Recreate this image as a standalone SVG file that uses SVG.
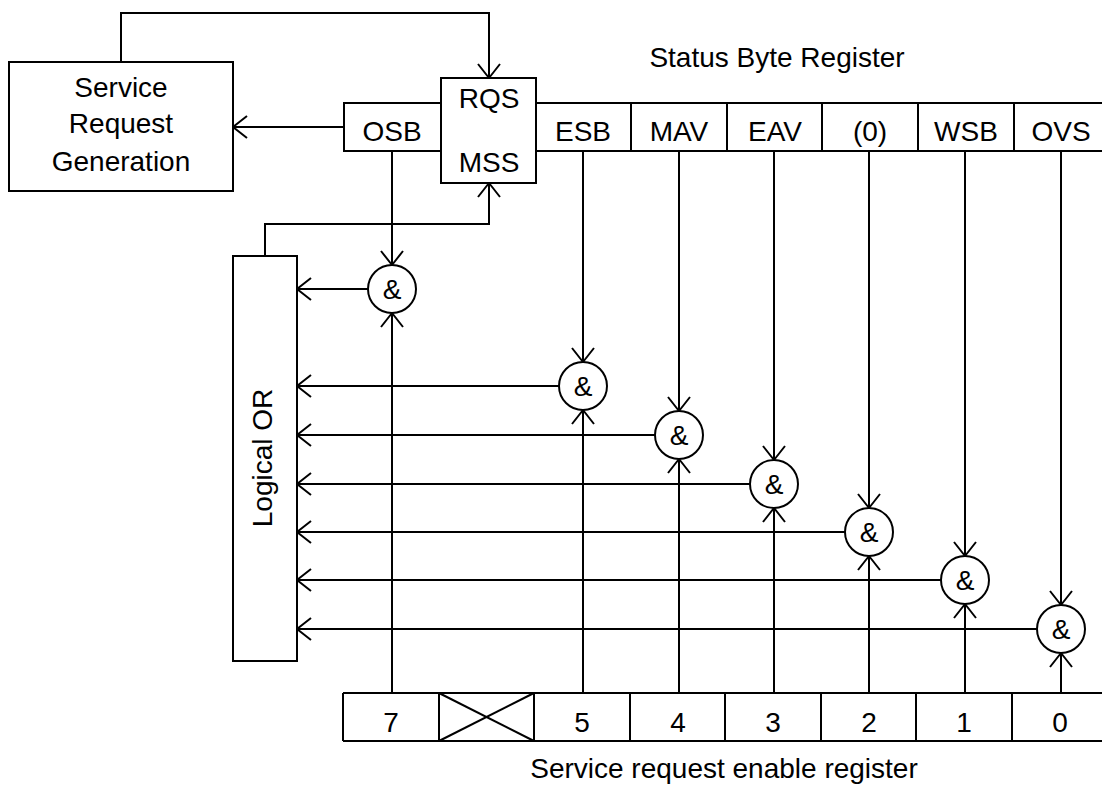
<svg xmlns="http://www.w3.org/2000/svg" width="1102" height="785" viewBox="0 0 1102 785">
<style>
  .box { fill: #fff; stroke: #000; stroke-width: 2; }
  .ln { fill: none; stroke: #000; stroke-width: 2; }
  .arr { fill: none; stroke: #000; stroke-width: 2; marker-end: url(#open); }
  text { font-family: "Liberation Sans", Arial, sans-serif; font-size: 28px; fill: #000; text-anchor: middle; }
</style>
<defs>
  <marker id="open" markerUnits="userSpaceOnUse" markerWidth="34" markerHeight="34" viewBox="-17 -17 34 34" refX="0" refY="0" orient="auto" overflow="visible">
    <path d="M-14,-11 L0,0 L-14,11" fill="none" stroke="#000" stroke-width="2"/>
  </marker>
</defs>
<rect width="1102" height="785" fill="#fff"/>

<g id="connectors">
  <polyline class="arr" points="121,62 121,13 489,13 489,78"/>
  <line class="arr" x1="344" y1="127" x2="233" y2="127"/>
  <polyline class="arr" points="265,256 265,224 489,224 489,183"/>
  <line class="arr" x1="392" y1="151" x2="392" y2="265"/>
  <line class="arr" x1="583" y1="151" x2="583" y2="362"/>
  <line class="arr" x1="679" y1="151" x2="679" y2="411"/>
  <line class="arr" x1="774" y1="151" x2="774" y2="460"/>
  <line class="arr" x1="869" y1="151" x2="869" y2="508"/>
  <line class="arr" x1="965" y1="151" x2="965" y2="556"/>
  <line class="arr" x1="1061" y1="151" x2="1061" y2="605"/>
  <line class="arr" x1="392" y1="693" x2="392" y2="313"/>
  <line class="arr" x1="583" y1="693" x2="583" y2="410"/>
  <line class="arr" x1="679" y1="693" x2="679" y2="459"/>
  <line class="arr" x1="774" y1="693" x2="774" y2="508"/>
  <line class="arr" x1="869" y1="693" x2="869" y2="556"/>
  <line class="arr" x1="965" y1="693" x2="965" y2="604"/>
  <line class="arr" x1="1061" y1="693" x2="1061" y2="653"/>
  <line class="arr" x1="368" y1="289" x2="297" y2="289"/>
  <line class="arr" x1="559" y1="386" x2="297" y2="386"/>
  <line class="arr" x1="655" y1="435" x2="297" y2="435"/>
  <line class="arr" x1="750" y1="484" x2="297" y2="484"/>
  <line class="arr" x1="845" y1="532" x2="297" y2="532"/>
  <line class="arr" x1="941" y1="580" x2="297" y2="580"/>
  <line class="arr" x1="1037" y1="629" x2="297" y2="629"/>
</g>

<g id="service-request-generation">
  <rect class="box" x="9" y="62" width="224" height="129"/>
  <text x="121" y="97">Service</text>
  <text x="121" y="133">Request</text>
  <text x="121" y="171">Generation</text>
</g>

<g id="status-byte-label">
  <text x="777" y="67">Status Byte Register</text>
</g>

<g id="osb">
  <rect class="box" x="344" y="103" width="97" height="48"/>
  <text x="392" y="141">OSB</text>
</g>

<g id="rqs-mss">
  <rect class="box" x="441" y="78" width="95" height="105"/>
  <text x="489" y="108">RQS</text>
  <text x="489" y="172">MSS</text>
</g>

<g id="status-byte-register">
  <line class="ln" x1="536" y1="103" x2="1102" y2="103"/>
  <line class="ln" x1="536" y1="151" x2="1102" y2="151"/>
  <line class="ln" x1="631" y1="103" x2="631" y2="151"/>
  <line class="ln" x1="727" y1="103" x2="727" y2="151"/>
  <line class="ln" x1="822" y1="103" x2="822" y2="151"/>
  <line class="ln" x1="918" y1="103" x2="918" y2="151"/>
  <line class="ln" x1="1014" y1="103" x2="1014" y2="151"/>
  <text x="583" y="141">ESB</text>
  <text x="679" y="141">MAV</text>
  <text x="775" y="141">EAV</text>
  <text x="870" y="141">(0)</text>
  <text x="966" y="141">WSB</text>
  <text x="1061" y="141">OVS</text>
</g>

<g id="logical-or">
  <rect class="box" x="233" y="256" width="64" height="405"/>
  <text transform="translate(272,458) rotate(-90)">Logical OR</text>
</g>

<g id="and-gates">
  <g id="and7"><circle class="box" cx="392" cy="289" r="24"/><text x="392" y="299">&amp;</text></g>
  <g id="and5"><circle class="box" cx="583" cy="386" r="24"/><text x="583" y="396">&amp;</text></g>
  <g id="and4"><circle class="box" cx="679" cy="435" r="24"/><text x="679" y="445">&amp;</text></g>
  <g id="and3"><circle class="box" cx="774" cy="484" r="24"/><text x="774" y="494">&amp;</text></g>
  <g id="and2"><circle class="box" cx="869" cy="532" r="24"/><text x="869" y="542">&amp;</text></g>
  <g id="and1"><circle class="box" cx="965" cy="580" r="24"/><text x="965" y="590">&amp;</text></g>
  <g id="and0"><circle class="box" cx="1061" cy="629" r="24"/><text x="1061" y="639">&amp;</text></g>
</g>

<g id="service-request-enable-register">
  <line class="ln" x1="343" y1="693" x2="1102" y2="693"/>
  <line class="ln" x1="343" y1="741" x2="1102" y2="741"/>
  <line class="ln" x1="343" y1="693" x2="343" y2="741"/>
  <line class="ln" x1="439" y1="693" x2="439" y2="741"/>
  <line class="ln" x1="534" y1="693" x2="534" y2="741"/>
  <line class="ln" x1="630" y1="693" x2="630" y2="741"/>
  <line class="ln" x1="725" y1="693" x2="725" y2="741"/>
  <line class="ln" x1="821" y1="693" x2="821" y2="741"/>
  <line class="ln" x1="916" y1="693" x2="916" y2="741"/>
  <line class="ln" x1="1012" y1="693" x2="1012" y2="741"/>
  <line class="ln" x1="439" y1="693" x2="534" y2="741"/>
  <line class="ln" x1="439" y1="741" x2="534" y2="693"/>
  <text x="391" y="732">7</text>
  <text x="582" y="732">5</text>
  <text x="678" y="732">4</text>
  <text x="773" y="732">3</text>
  <text x="869" y="732">2</text>
  <text x="964" y="732">1</text>
  <text x="1060" y="732">0</text>
</g>

<g id="enable-register-label">
  <text x="724" y="778">Service request enable register</text>
</g>
</svg>
